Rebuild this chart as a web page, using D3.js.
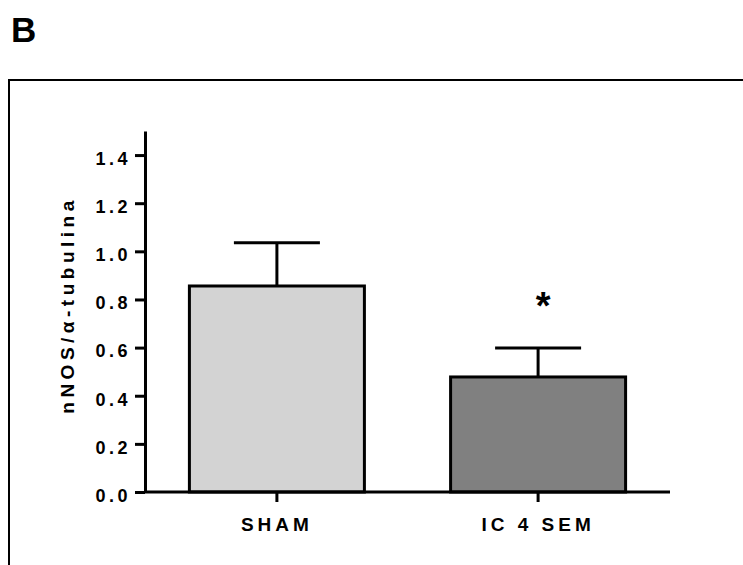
<!DOCTYPE html>
<html><head><meta charset="utf-8">
<script src="https://cdn.jsdelivr.net/npm/d3@7"></script>
<style>body{margin:0;background:#fff}svg{display:block}</style>
</head><body>
<script>
const categories = ["SHAM", "IC 4 SEM"];
const means = [0.856, 0.478];
const errors = [0.180, 0.120];
const colors = ["#d3d3d3", "#808080"];
const yTicks = [0.0, 0.2, 0.4, 0.6, 0.8, 1.0, 1.2, 1.4];
const significance = ["", "*"];

const W = 743, H = 565;
const svg = d3.select("body").append("svg").attr("width", W).attr("height", H);
const font = "'Liberation Sans', Arial, sans-serif";

svg.append("text").attr("x", 11).attr("y", 42).text("B")
  .attr("font-family", font).attr("font-weight", "bold").attr("font-size", 35);

// frame
svg.append("path").attr("d", "M9,570 L9,80 L750,80")
  .attr("fill", "none").attr("stroke", "#000").attr("stroke-width", 2);

const x0 = 145, x1 = 670;
const y = d3.scaleLinear().domain([0, 1.5]).range([492, 131]);
const x = d3.scaleBand().domain(categories).range([x0, x1]).paddingInner(0.33).paddingOuter(0.17);

const g = svg.append("g");

// bars
g.selectAll("rect.bar").data(categories).join("rect")
  .attr("x", d => x(d)).attr("width", x.bandwidth())
  .attr("y", (d, i) => y(means[i])).attr("height", (d, i) => y(0) - y(means[i]))
  .attr("fill", (d, i) => colors[i]).attr("stroke", "#000").attr("stroke-width", 3);

// error bars
categories.forEach((c, i) => {
  const cx = x(c) + x.bandwidth() / 2;
  const top = y(means[i] + errors[i]);
  g.append("line").attr("x1", cx).attr("x2", cx).attr("y1", y(means[i])).attr("y2", top)
    .attr("stroke", "#000").attr("stroke-width", 3);
  g.append("line").attr("x1", cx - 43).attr("x2", cx + 43).attr("y1", top).attr("y2", top)
    .attr("stroke", "#000").attr("stroke-width", 3);
  if (significance[i]) {
    g.append("text").attr("x", cx + 5).attr("y", top - 29).attr("text-anchor", "middle")
      .attr("font-family", font).attr("font-weight", "bold").attr("font-size", 38).text(significance[i]);
  }
});

// y axis
const yAxis = d3.axisLeft(y).tickValues(yTicks).tickFormat(d3.format(".1f")).tickSize(10).tickSizeOuter(0);
const ya = svg.append("g").attr("transform", `translate(${x0},0)`).call(yAxis);
ya.select(".domain").attr("stroke-width", 3);
ya.selectAll(".tick line").attr("stroke-width", 3);
ya.selectAll(".tick text").attr("x", -14).attr("dy", "0.52em").attr("font-family", font).attr("font-weight", "bold")
  .attr("font-size", 18).attr("letter-spacing", "3.5px").attr("fill", "#000");

// x axis
const xAxis = d3.axisBottom(x).tickSize(10).tickSizeOuter(0);
const xa = svg.append("g").attr("transform", `translate(0,${y(0)})`).call(xAxis);
xa.select(".domain").attr("stroke-width", 3).attr("d", `M${x0},0H${x1}`);
xa.selectAll(".tick line").attr("stroke-width", 3);
xa.selectAll(".tick text").attr("y", 26).attr("font-family", font).attr("font-weight", "bold")
  .attr("font-size", 19).attr("letter-spacing", "4px").attr("fill", "#000");

// y label
svg.append("text").attr("transform", `translate(74,305) rotate(-90)`).attr("text-anchor", "middle")
  .attr("font-family", font).attr("font-weight", "bold").attr("font-size", 19).attr("letter-spacing", "4.5px")
  .text("nNOS/α-tubulina");
</script>
</body></html>
